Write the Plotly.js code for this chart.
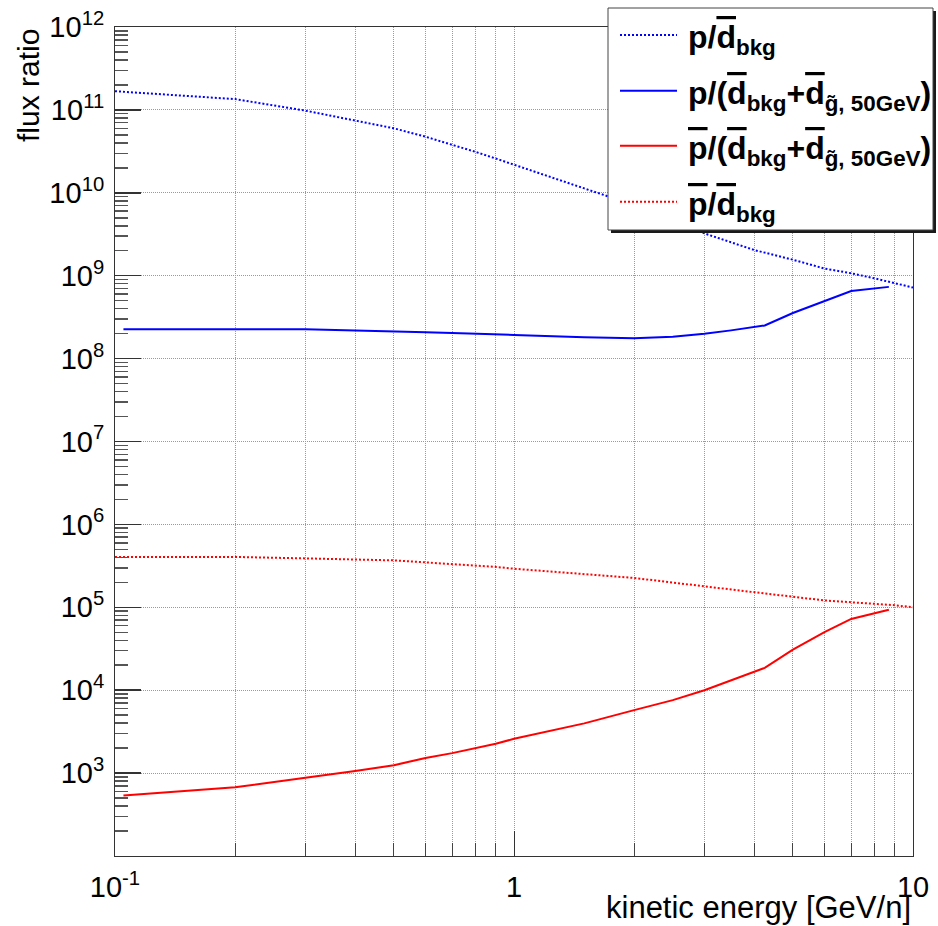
<!DOCTYPE html>
<html>
<head>
<meta charset="utf-8">
<script src="https://cdn.plot.ly/plotly-3.0.1.min.js"></script>
<style>
  html, body { margin: 0; padding: 0; background: #fff; }
  #chart { width: 938px; height: 926px; }
</style>
</head>
<body>
<div id="chart"></div>
<script>
// Kinetic energy per nucleon [GeV/n]
const energyBkg = [0.1, 0.2, 0.3, 0.4, 0.5, 0.6, 0.7, 0.8, 0.9, 1, 1.5, 2, 3, 4, 5, 6, 7, 8, 9, 10];
const energyTotal = [0.105, 0.2, 0.3, 0.4, 0.5, 0.6, 0.7, 0.8, 0.9, 1, 1.5, 2, 2.5, 3, 3.5, 4.25, 5, 6, 7, 8.7];

// p / dbar(bkg)
const pOverDbarBkg = [1.68e11, 1.35e11, 9.8e10, 7.52e10, 6.0e10, 4.75e10, 3.83e10, 3.12e10, 2.59e10, 2.19e10,
                      1.13e10, 7.1e9, 3.24e9, 2.04e9, 1.56e9, 1.22e9, 1.07e9, 9.3e8, 8.2e8, 7.2e8];
// p / (dbar(bkg) + dbar(gluino, 50 GeV))
const pOverDbarTotal = [2.26e8, 2.26e8, 2.26e8, 2.19e8, 2.11e8, 2.08e8, 2.04e8, 1.99e8, 1.95e8, 1.93e8,
                        1.81e8, 1.76e8, 1.83e8, 1.99e8, 2.19e8, 2.51e8, 3.55e8, 4.9e8, 6.53e8, 7.33e8];
// pbar / (dbar(bkg) + dbar(gluino, 50 GeV))
const pbarOverDbarTotal = [538, 673, 881, 1057, 1247, 1517, 1742, 1986, 2259, 2594,
                           3981, 5754, 7586, 10000, 13100, 18620, 30900, 50100, 72400, 93300];
// pbar / dbar(bkg)
const pbarOverDbarBkg = [4.05e5, 4.05e5, 3.89e5, 3.78e5, 3.68e5, 3.48e5, 3.33e5, 3.18e5, 3.07e5, 2.92e5,
                         2.51e5, 2.26e5, 1.79e5, 1.52e5, 1.33e5, 1.21e5, 1.15e5, 1.10e5, 1.06e5, 1.0e5];

// Axis ticks
const xTickVals = [0.1, 1, 10];
const xTickText = ['10<sup>-1</sup>', '1', '10'];
const xMinorVals = [0.2, 0.3, 0.4, 0.5, 0.6, 0.7, 0.8, 0.9, 2, 3, 4, 5, 6, 7, 8, 9];
const yTickVals = [1e3, 1e4, 1e5, 1e6, 1e7, 1e8, 1e9, 1e10, 1e11, 1e12];
const yTickText = ['10<sup>3</sup>', '10<sup>4</sup>', '10<sup>5</sup>', '10<sup>6</sup>', '10<sup>7</sup>',
                   '10<sup>8</sup>', '10<sup>9</sup>', '10<sup>10</sup>', '10<sup>11</sup>', '10<sup>12</sup>'];
const yMinorVals = [];
for (let e = 2; e < 12; e++) {
  for (let m = 2; m <= 9; m++) yMinorVals.push(m * Math.pow(10, e));
}

// Series labels
const bar = s => '<span style="text-decoration:overline">' + s + '</span>';
const gluino = 'g\u0303, 50GeV';
const seriesNames = [
  'p/' + bar('d') + '<sub>bkg</sub>',
  'p/(' + bar('d') + '<sub>bkg</sub>+' + bar('d') + '<sub>' + gluino + '</sub>)',
  bar('p') + '/(' + bar('d') + '<sub>bkg</sub>+' + bar('d') + '<sub>' + gluino + '</sub>)',
  bar('p') + '/' + bar('d') + '<sub>bkg</sub>'
];

const BLUE = '#0000ff', RED = '#ff0000';
const DOTS = '2px,2px';
const series = [
  { x: energyBkg,   y: pOverDbarBkg,      color: BLUE, dash: DOTS },
  { x: energyTotal, y: pOverDbarTotal,    color: BLUE, dash: 'solid' },
  { x: energyTotal, y: pbarOverDbarTotal, color: RED,  dash: 'solid' },
  { x: energyBkg,   y: pbarOverDbarBkg,   color: RED,  dash: DOTS }
];

const traces = series.map((s, i) => ({
  type: 'scatter', mode: 'lines', name: seriesNames[i],
  x: s.x, y: s.y,
  line: { color: s.color, width: 2, dash: s.dash },
  showlegend: false, hoverinfo: 'skip'
}));

// Plot-area geometry helpers (pixels -> paper coordinates)
const M = { l: 115, r: 25, t: 27, b: 70 };
const PW = 938 - M.l - M.r, PH = 926 - M.t - M.b;
const xp = px => (px - M.l) / PW;
const yp = py => (926 - M.b - py) / PH;

const FONT = '"Liberation Sans", Arial, Helvetica, sans-serif';
const GRID = '#9a9a9a';

// Legend box with drop shadow, sample lines and labels
const legendRowsY = [35, 90.7, 145.7, 201.7];
const shapes = [
  { type: 'rect', xref: 'paper', yref: 'paper', layer: 'above',
    x0: xp(611), x1: xp(936), y0: yp(233), y1: yp(11),
    fillcolor: '#1a1a1a', line: { width: 0 } },
  { type: 'rect', xref: 'paper', yref: 'paper', layer: 'above',
    x0: xp(608), x1: xp(933), y0: yp(230), y1: yp(8),
    fillcolor: '#ffffff', line: { color: '#444', width: 1 } }
];
const annotations = [];
series.forEach((s, i) => {
  const ry = legendRowsY[i];
  shapes.push({ type: 'line', xref: 'paper', yref: 'paper', layer: 'above',
    x0: xp(620), x1: xp(677), y0: yp(ry), y1: yp(ry),
    line: { color: s.color, width: 2, dash: s.dash } });
  annotations.push({ xref: 'paper', yref: 'paper', x: xp(686), y: yp(ry + 5),
    xanchor: 'left', yanchor: 'middle', showarrow: false, text: seriesNames[i],
    font: { family: FONT, size: 32, weight: 700, color: '#000' } });
});

// Axis titles, aligned to the far end of each axis
annotations.push({ xref: 'paper', yref: 'paper', x: xp(913), y: yp(907),
  xanchor: 'right', yanchor: 'middle', showarrow: false, text: 'kinetic energy [GeV/n]',
  font: { family: FONT, size: 31, color: '#000' } });
annotations.push({ xref: 'paper', yref: 'paper', x: xp(28.5), y: yp(27),
  xanchor: 'center', yanchor: 'top', showarrow: false, textangle: -90, text: 'flux ratio',
  font: { family: FONT, size: 30, color: '#000' } });

const layout = {
  width: 938, height: 926, margin: M,
  paper_bgcolor: '#fff', plot_bgcolor: '#fff',
  font: { family: FONT, size: 29, color: '#000' },
  showlegend: false,
  xaxis: {
    type: 'log', range: [-1, 1], fixedrange: true,
    tickmode: 'array', tickvals: xTickVals, ticktext: xTickText,
    ticks: 'inside', ticklen: 25, tickwidth: 1, tickcolor: '#333',
    tickfont: { family: FONT, size: 29, color: '#000' }, ticklabelstandoff: 5,
    showgrid: true, gridcolor: GRID, gridwidth: 1, griddash: '1px,1px',
    minor: { tickmode: 'array', tickvals: xMinorVals, ticks: 'inside', ticklen: 13,
             tickwidth: 1, tickcolor: '#444', showgrid: true, gridcolor: GRID,
             gridwidth: 1, griddash: '1px,1px' },
    showline: true, linecolor: '#333', linewidth: 1, mirror: true, zeroline: false
  },
  yaxis: {
    type: 'log', range: [2, 12], fixedrange: true,
    tickmode: 'array', tickvals: yTickVals, ticktext: yTickText,
    ticks: 'inside', ticklen: 26, tickwidth: 1.5, tickcolor: '#333',
    tickfont: { family: FONT, size: 29, color: '#000' }, ticklabelstandoff: 4,
    showgrid: true, gridcolor: GRID, gridwidth: 1, griddash: '1px,1px',
    minor: { tickmode: 'array', tickvals: yMinorVals, ticks: 'inside', ticklen: 13,
             tickwidth: 1.5, tickcolor: '#555', showgrid: false },
    showline: true, linecolor: '#333', linewidth: 1, mirror: true, zeroline: false
  },
  shapes: shapes,
  annotations: annotations
};

Plotly.newPlot('chart', traces, layout, { staticPlot: true, displayModeBar: false });
</script>
</body>
</html>
